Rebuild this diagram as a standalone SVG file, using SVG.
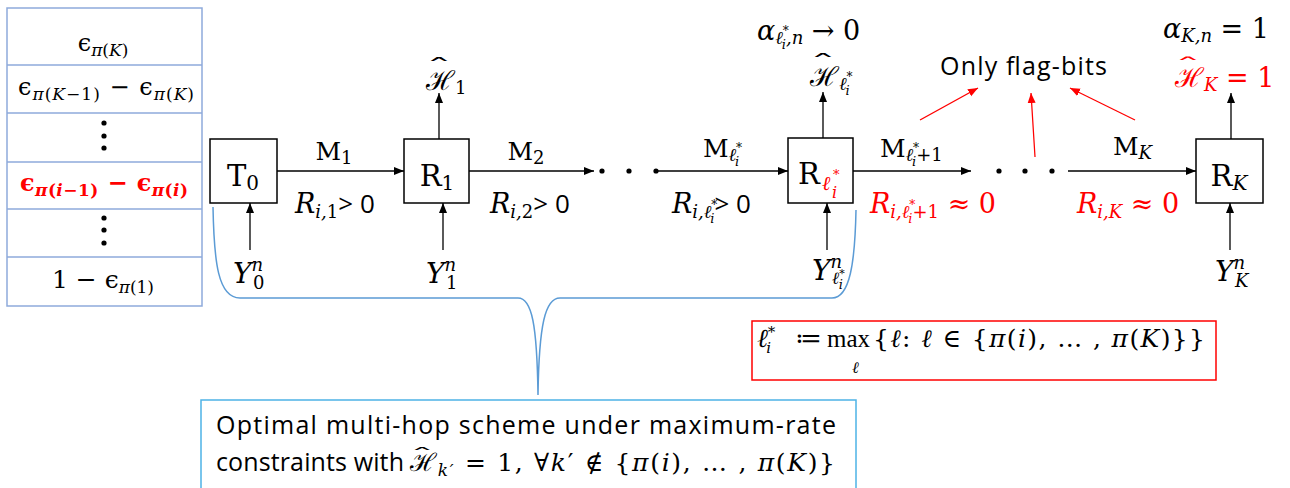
<svg xmlns="http://www.w3.org/2000/svg" width="1290" height="488" viewBox="0 0 1290 488">
<defs>
<marker id="ah" viewBox="0 0 10 10" refX="10" refY="5" markerWidth="10" markerHeight="10" markerUnits="userSpaceOnUse" orient="auto"><path d="M0,1 L10,5 L0,9 z" fill="#000"/></marker>
<marker id="ahr" viewBox="0 0 10 10" refX="10" refY="5" markerWidth="10" markerHeight="10" markerUnits="userSpaceOnUse" orient="auto"><path d="M0,1 L10,5 L0,9 z" fill="#f00"/></marker>
<style>
.m{font-family:"DejaVu Serif","Liberation Serif",serif;fill:#000}
.t{font-family:"Liberation Serif","DejaVu Serif",serif;fill:#000}
.s{font-family:"Open Sans","Liberation Sans",sans-serif;fill:#000}
.i{font-style:italic}
.red{fill:#f00}
.hat{font-family:"DejaVu Serif",serif;font-size:22px;text-anchor:middle}
.box{fill:#fff;stroke:#000;stroke-width:1.5}
.ln{stroke:#000;stroke-width:1.3;fill:none}
.rl{stroke:#f00;stroke-width:1.3;fill:none}
.tb{fill:none;stroke:#8eaadb;stroke-width:1.5}
</style>
</defs>
<rect width="1290" height="488" fill="#fff"/>

<g id="table">
<rect class="tb" x="7" y="8" width="195" height="298"/>
<line class="tb" x1="7" y1="65" x2="202" y2="65"/>
<line class="tb" x1="7" y1="113" x2="202" y2="113"/>
<line class="tb" x1="7" y1="162" x2="202" y2="162"/>
<line class="tb" x1="7" y1="209" x2="202" y2="209"/>
<line class="tb" x1="7" y1="257" x2="202" y2="257"/>
<text class="m" x="103" y="51" font-size="24" text-anchor="middle">ϵ<tspan font-size="17" dy="5"><tspan class="i">π</tspan>(<tspan class="i">K</tspan>)</tspan></text>
<text class="m" x="106" y="95" font-size="24" text-anchor="middle" textLength="176">ϵ<tspan font-size="17" dy="5"><tspan class="i">π</tspan>(<tspan class="i">K</tspan>−1)</tspan><tspan dy="-5"> − ϵ</tspan><tspan font-size="17" dy="5"><tspan class="i">π</tspan>(<tspan class="i">K</tspan>)</tspan></text>
<circle cx="104" cy="123" r="2.6"/><circle cx="104" cy="136" r="2.6"/><circle cx="104" cy="148" r="2.6"/>
<text class="m red" x="104" y="191" font-size="24" font-weight="bold" text-anchor="middle" textLength="168">ϵ<tspan font-size="17" dy="5"><tspan class="i">π</tspan>(<tspan class="i">i</tspan>−1)</tspan><tspan dy="-5">  − ϵ</tspan><tspan font-size="17" dy="5"><tspan class="i">π</tspan>(<tspan class="i">i</tspan>)</tspan></text>
<circle cx="104" cy="218" r="2.6"/><circle cx="104" cy="230" r="2.6"/><circle cx="104" cy="243" r="2.6"/>
<text class="m" x="103" y="288" font-size="25" text-anchor="middle">1 − ϵ<tspan font-size="17" dy="5"><tspan class="i">π</tspan>(1)</tspan></text>
</g>

<g id="T0">
<rect class="box" x="210" y="139" width="67" height="64"/>
<text class="m" x="243" y="186" font-size="29" text-anchor="middle">T<tspan font-size="20" dy="4">0</tspan></text>
</g>
<g id="R1">
<rect class="box" x="404" y="139" width="65" height="64"/>
<text class="m" x="437" y="186" font-size="29" text-anchor="middle">R<tspan font-size="20" dy="4">1</tspan></text>
</g>
<g id="Rl">
<rect class="box" x="788" y="138" width="65" height="65"/>
<text class="m" x="809" y="184" font-size="29" text-anchor="middle">R</text>
<text class="m red i" x="822" y="190" font-size="20">ℓ</text>
<text class="m red" x="833" y="179" font-size="13">*</text>
<text class="m red i" x="832" y="198" font-size="16">i</text>
</g>
<g id="RK">
<rect class="box" x="1196" y="139" width="67" height="64"/>
<text class="m" x="1229" y="186" font-size="29" text-anchor="middle">R<tspan class="i" font-size="20" dy="4">K</tspan></text>
</g>

<g id="connectors">
<line class="ln" x1="277" y1="171" x2="404" y2="171" marker-end="url(#ah)"/>
<line class="ln" x1="469" y1="171" x2="594" y2="171" marker-end="url(#ah)"/>
<circle cx="602" cy="171" r="2.6"/><circle cx="629" cy="171" r="2.6"/><circle cx="656" cy="171" r="2.6"/>
<line class="ln" x1="656" y1="171" x2="788" y2="171" marker-end="url(#ah)"/>
<line class="ln" x1="853" y1="171" x2="971" y2="171" marker-end="url(#ah)"/>
<circle cx="999" cy="171" r="2.6"/><circle cx="1025" cy="171" r="2.6"/><circle cx="1052" cy="171" r="2.6"/>
<line class="ln" x1="1068" y1="171" x2="1196" y2="171" marker-end="url(#ah)"/>
<line class="ln" x1="250" y1="250" x2="250" y2="203" marker-end="url(#ah)"/>
<line class="ln" x1="443" y1="250" x2="443" y2="203" marker-end="url(#ah)"/>
<line class="ln" x1="827" y1="250" x2="827" y2="203" marker-end="url(#ah)"/>
<line class="ln" x1="1230" y1="250" x2="1230" y2="203" marker-end="url(#ah)"/>
<line class="ln" x1="439" y1="139" x2="439" y2="93" marker-end="url(#ah)"/>
<line class="ln" x1="823" y1="138" x2="823" y2="92" marker-end="url(#ah)"/>
<line class="ln" x1="1231" y1="139" x2="1231" y2="93" marker-end="url(#ah)"/>
<line class="rl" x1="920" y1="120" x2="978" y2="88" marker-end="url(#ahr)"/>
<line class="rl" x1="1035" y1="157" x2="1031" y2="93" marker-end="url(#ahr)"/>
<line class="rl" x1="1135" y1="120" x2="1070" y2="88" marker-end="url(#ahr)"/>
<path d="M213,207 C214,262 218,298 240,298 L518,298 C532,298 537,325 538,395 C539,325 545,298 560,298 L832,298 C850,298 855,262 856,210" fill="none" stroke="#5b9bd5" stroke-width="1.5"/>
</g>

<g id="labels">
<text class="m" x="334" y="160" font-size="25" text-anchor="middle">M<tspan font-size="18" dy="4">1</tspan></text>
<text class="m" x="295" y="213" font-size="27"><tspan class="i">R</tspan><tspan class="i" font-size="18" dy="5">i,</tspan><tspan font-size="18">1</tspan><tspan class="s" font-size="26" dy="-5">&gt; 0</tspan></text>
<text class="m" x="526" y="160" font-size="25" text-anchor="middle">M<tspan font-size="18" dy="4">2</tspan></text>
<text class="m" x="490" y="213" font-size="27"><tspan class="i">R</tspan><tspan class="i" font-size="18" dy="5">i,</tspan><tspan font-size="18">2</tspan><tspan class="s" font-size="26" dy="-5">&gt; 0</tspan></text>

<text class="m" x="703" y="157" font-size="25">M<tspan class="i" font-size="18" dy="4">ℓ</tspan><tspan font-size="12" dy="-9">*</tspan><tspan class="i" font-size="13" dx="-7" dy="14">i</tspan></text>
<text class="m" x="672" y="213" font-size="27"><tspan class="i">R</tspan><tspan class="i" font-size="18" dy="5">i,ℓ</tspan><tspan font-size="12" dy="-9">*</tspan><tspan class="i" font-size="13" dx="-7" dy="14">i</tspan><tspan class="s" font-size="26" dy="-10">&gt; 0</tspan></text>

<text class="m" x="880" y="157" font-size="25">M<tspan class="i" font-size="18" dy="4">ℓ</tspan><tspan font-size="12" dy="-9">*</tspan><tspan class="i" font-size="13" dx="-7" dy="14">i</tspan><tspan font-size="18" dy="-5">+1</tspan></text>
<text class="m red" x="870" y="213" font-size="27"><tspan class="i">R</tspan><tspan class="i" font-size="18" dy="5">i,ℓ</tspan><tspan font-size="12" dy="-9">*</tspan><tspan class="i" font-size="13" dx="-7" dy="14">i</tspan><tspan font-size="18" dy="-5">+1</tspan><tspan dy="-5"> ≈ 0</tspan></text>

<text class="m" x="1113" y="155" font-size="25">M<tspan class="i" font-size="18" dy="4">K</tspan></text>
<text class="m red" x="1077" y="213" font-size="27"><tspan class="i">R</tspan><tspan class="i" font-size="18" dy="5">i,K</tspan><tspan dy="-5"> ≈ 0</tspan></text>

<text class="m" x="757" y="40" font-size="27"><tspan class="i">α</tspan><tspan class="i" font-size="18" dy="4">ℓ</tspan><tspan font-size="12" dy="-9">*</tspan><tspan class="i" font-size="13" dx="-7" dy="14">i</tspan><tspan class="i" font-size="18" dy="-5">,n</tspan><tspan dy="-4"> → 0</tspan></text>
<text class="m" x="1163" y="38" font-size="27"><tspan class="i">α</tspan><tspan class="i" font-size="18" dy="4">K,n</tspan><tspan dy="-4"> = 1</tspan></text>

<text class="m" x="426" y="90" font-size="27">ℋ<tspan font-size="18" dy="4">1</tspan></text>
<text class="hat" transform="translate(439,74) scale(2.4,0.9)">ˆ</text>
<text class="m" x="810" y="86" font-size="27">ℋ<tspan class="i" font-size="18" dy="4">ℓ</tspan><tspan font-size="12" dy="-9">*</tspan><tspan class="i" font-size="13" dx="-7" dy="14">i</tspan></text>
<text class="hat" transform="translate(823,70) scale(2.4,0.9)">ˆ</text>
<text class="m red" x="1175" y="87" font-size="27">ℋ<tspan class="i" font-size="18" dy="4">K</tspan><tspan dy="-4"> = 1</tspan></text>
<text class="hat red" transform="translate(1188,72) scale(2.4,0.8)">ˆ</text>

<text class="m i" x="233" y="283" font-size="28">Y<tspan font-size="18" dy="-12">n</tspan><tspan font-size="18" dx="-10" dy="18" font-style="normal">0</tspan></text>
<text class="m i" x="426" y="283" font-size="28">Y<tspan font-size="18" dy="-12">n</tspan><tspan font-size="18" dx="-10" dy="18" font-style="normal">1</tspan></text>
<text class="m i" x="812" y="280" font-size="28">Y<tspan font-size="18" dy="-12">n</tspan><tspan font-size="17" dx="-10" dy="16">ℓ</tspan><tspan font-size="11" font-style="normal" dy="-7">*</tspan><tspan font-size="13" dx="-6" dy="12">i</tspan></text>
<text class="m i" x="1215" y="281" font-size="28">Y<tspan font-size="18" dy="-12">n</tspan><tspan font-size="18" dx="-10" dy="18">K</tspan></text>

<text class="s" x="940" y="75" font-size="25" textLength="167">Only flag-bits</text>
</g>

<g id="defbox">
<rect x="752" y="321" width="464" height="59" fill="none" stroke="#f00" stroke-width="1.5"/>
<text class="m" x="757" y="347" font-size="26"><tspan class="i">ℓ</tspan><tspan font-size="15" dy="-10">*</tspan><tspan class="i" font-size="15" dx="-9" dy="16">i</tspan></text>
<text class="m" x="795" y="347" font-size="26">≔</text>
<text class="t" x="827" y="347" font-size="25">max</text>
<text class="m i" x="852" y="373" font-size="16">ℓ</text>
<text class="m" x="873" y="347" font-size="25" textLength="332">{<tspan class="i">ℓ</tspan>: <tspan class="i">ℓ</tspan> ∈ {<tspan class="i">π</tspan>(<tspan class="i">i</tspan>), … , <tspan class="i">π</tspan>(<tspan class="i">K</tspan>)}}</text>
</g>

<g id="scheme">
<rect x="201" y="400" width="655" height="100" fill="#fff" stroke="#4db3e6" stroke-width="1.5"/>
<text class="s" x="216" y="434" font-size="25" textLength="620">Optimal multi-hop scheme under maximum-rate</text>
<text class="s" x="216" y="471" font-size="25" textLength="188">constraints with</text>
<text class="m" x="410" y="471" font-size="25" textLength="425">ℋ<tspan class="i" font-size="17" dy="5">k′</tspan><tspan dy="-5"> = 1, ∀</tspan><tspan class="i">k</tspan>′ ∉ {<tspan class="i">π</tspan>(<tspan class="i">i</tspan>), … , <tspan class="i">π</tspan>(<tspan class="i">K</tspan>)}</text>
<text class="hat" transform="translate(422,459) scale(2.2,0.7)">ˆ</text>
</g>
</svg>
